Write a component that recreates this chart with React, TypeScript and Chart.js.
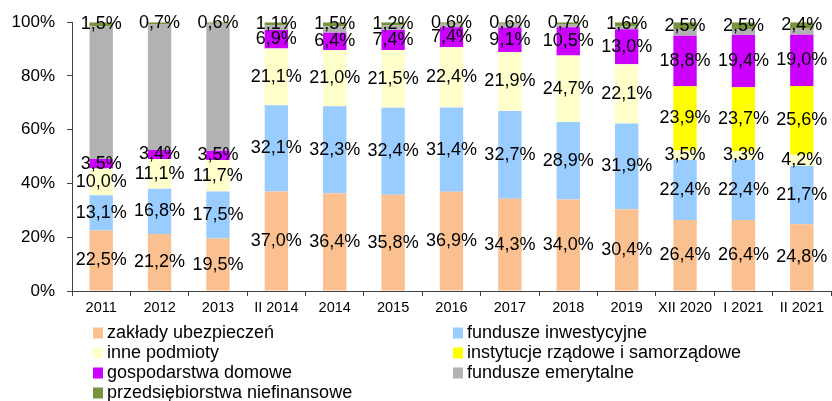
import React, { useEffect, useRef } from "react";
import { Chart, registerables } from "chart.js";

Chart.register(...registerables);

const categories = ["2011", "2012", "2013", "II 2014", "2014", "2015", "2016", "2017", "2018", "2019", "XII 2020", "I 2021", "II 2021"];

const zakladyUbezpieczen = [22.5, 21.2, 19.5, 37.0, 36.4, 35.8, 36.9, 34.3, 34.0, 30.4, 26.4, 26.4, 24.8];
const funduszeInwestycyjne = [13.1, 16.8, 17.5, 32.1, 32.3, 32.4, 31.4, 32.7, 28.9, 31.9, 22.4, 22.4, 21.7];
const innePodmioty = [10.0, 11.1, 11.7, 21.1, 21.0, 21.5, 22.4, 21.9, 24.7, 22.1, 3.5, 3.3, 4.2];
const instytucjeRzadowe = [0, 0, 0, 0, 0, 0, 0, 0, 0, 0, 23.9, 23.7, 25.6];
const gospodarstwaDomowe = [3.5, 3.4, 3.5, 6.9, 6.4, 7.4, 7.4, 9.1, 10.5, 13.0, 18.8, 19.4, 19.0];
const funduszeEmerytalne = [49.4, 46.8, 47.2, 1.8, 2.4, 1.7, 1.3, 1.4, 1.2, 1.0, 2.5, 2.3, 2.3];
const przedsiebiorstwa = [1.5, 0.7, 0.6, 1.1, 1.5, 1.2, 0.6, 0.6, 0.7, 1.6, 2.5, 2.5, 2.4];

const yTicks = [0, 20, 40, 60, 80, 100];

const FONT = "'Liberation Sans', Arial, sans-serif";

const seriesDefs = [
  { label: "zakłady ubezpieczeń", data: zakladyUbezpieczen, color: "#FAC090", showLabels: true },
  { label: "fundusze inwestycyjne", data: funduszeInwestycyjne, color: "#99CCFF", showLabels: true },
  { label: "inne podmioty", data: innePodmioty, color: "#FFFFCC", showLabels: true },
  { label: "instytucje rządowe i samorządowe", data: instytucjeRzadowe, color: "#FFFF00", showLabels: true },
  { label: "gospodarstwa domowe", data: gospodarstwaDomowe, color: "#CC00FF", showLabels: true },
  { label: "fundusze emerytalne", data: funduszeEmerytalne, color: "#B2B2B2", showLabels: false },
  { label: "przedsiębiorstwa niefinansowe", data: przedsiebiorstwa, color: "#77933C", showLabels: true },
];

const fmt = (v: number) => v.toFixed(1).replace(".", ",") + "%";

const dataLabelPlugin = {
  id: "segLabels",
  afterDatasetsDraw(chart: any) {
    const ctx = chart.ctx;
    ctx.save();
    ctx.font = `18px ${FONT}`;
    ctx.fillStyle = "#000";
    ctx.textAlign = "center";
    ctx.textBaseline = "middle";
    chart.data.datasets.forEach((ds: any, di: number) => {
      if (!seriesDefs[di].showLabels) return;
      const meta = chart.getDatasetMeta(di);
      meta.data.forEach((el: any, i: number) => {
        const v = ds.data[i];
        if (!v) return;
        ctx.fillText(fmt(v), el.x, (el.y + el.base) / 2);
      });
    });
    ctx.restore();
  },
};

const legendPlugin = {
  id: "gridLegend",
  afterDraw(chart: any) {
    const ctx = chart.ctx;
    ctx.save();
    ctx.font = `18px ${FONT}`;
    ctx.textBaseline = "middle";
    ctx.textAlign = "left";
    const colX = [93, 453];
    const rowY0 = 333;
    const rowStep = 20;
    chart.data.datasets.forEach((ds: any, i: number) => {
      const col = i % 2;
      const row = Math.floor(i / 2);
      const x = colX[col];
      const y = rowY0 + row * rowStep;
      ctx.fillStyle = ds.backgroundColor;
      ctx.fillRect(x, y - 5.5, 10, 11);
      ctx.fillStyle = "#000";
      ctx.fillText(ds.label, x + 14, y);
    });
    ctx.restore();
  },
};

export default function App() {
  const ref = useRef<HTMLCanvasElement | null>(null);

  useEffect(() => {
    document.body.style.margin = "0";
    if (!ref.current) return;
    const chart = new Chart(ref.current, {
      type: "bar",
      data: {
        labels: categories,
        datasets: seriesDefs.map((s) => ({
          label: s.label,
          data: s.data,
          backgroundColor: s.color,
          borderWidth: 0,
          barPercentage: 0.4,
          categoryPercentage: 1,
        })),
      },
      options: {
        animation: false,
        responsive: false,
        devicePixelRatio: 1,
        layout: { padding: { top: 21, right: 1, bottom: 80, left: 0 } },
        plugins: {
          legend: { display: false },
          tooltip: { enabled: false },
        },
        scales: {
          x: {
            stacked: true,
            grid: {
              display: true,
              drawOnChartArea: false,
              drawTicks: true,
              tickLength: 5,
              offset: true,
              color: "#404040",
            },
            border: { display: true, color: "#404040" },
            ticks: {
              color: "#000",
              padding: 3,
              autoSkip: false,
              maxRotation: 0,
              font: { family: FONT, size: 14.5 },
            },
            afterFit(scale: any) {
              scale.height = 30;
            },
          },
          y: {
            stacked: true,
            min: 0,
            max: 100,
            afterBuildTicks(scale: any) {
              scale.ticks = yTicks.map((v) => ({ value: v }));
            },
            grid: {
              display: true,
              drawOnChartArea: false,
              drawTicks: true,
              tickLength: 5,
              color: "#404040",
            },
            border: { display: true, color: "#404040" },
            ticks: {
              color: "#000",
              padding: 12,
              font: { family: FONT, size: 17 },
              callback: (v: any) => v + "%",
            },
            afterFit(scale: any) {
              scale.width = 72;
            },
          },
        },
      },
      plugins: [dataLabelPlugin, legendPlugin],
    });
    return () => chart.destroy();
  }, []);

  return (
    <div style={{ position: "absolute", left: 0, top: 0, width: 832, height: 401 }}>
      <canvas ref={ref} width={832} height={401} style={{ width: 832, height: 401 }} />
    </div>
  );
}
